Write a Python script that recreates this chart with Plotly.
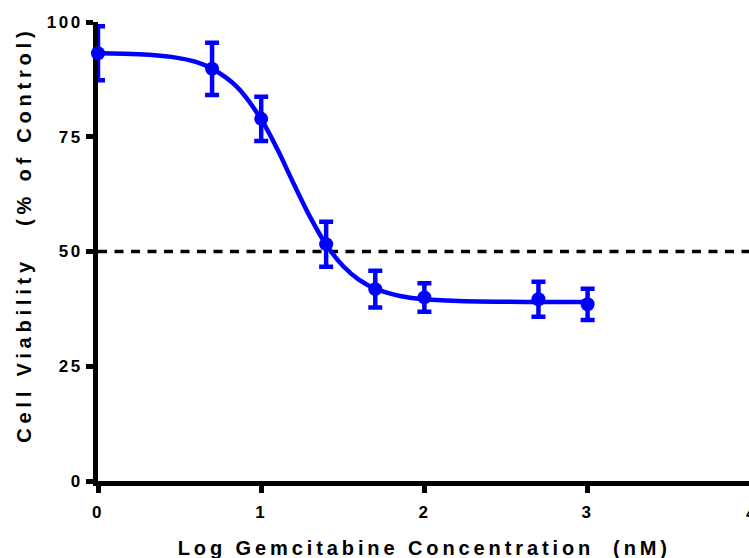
import plotly.graph_objects as go

# Measured cell viability (mean and error) at each log concentration
log_conc = [0, 0.699, 1.0, 1.398, 1.699, 2.0, 2.699, 3.0]
viability = [93.2, 89.8, 78.9, 51.6, 41.8, 40.0, 39.6, 38.5]
viability_err = [5.9, 5.7, 4.8, 4.9, 4.0, 3.1, 3.8, 3.4]

# Dose-response fit curve, sampled along the log concentration axis
fit_x = [0, 0.25, 0.45, 0.6, 0.7, 0.85, 1.0, 1.1, 1.2, 1.3, 1.4, 1.5, 1.6,
         1.7, 1.85, 2.0, 2.25, 2.5, 2.75, 3.0]
fit_y = [93.2, 93.0, 92.4, 91.3, 89.8, 85.9, 78.8, 72.2, 64.7, 57.5, 51.4,
         46.9, 43.8, 41.9, 40.3, 39.6, 39.15, 39.05, 39.0, 39.0]

x_ticks = [0, 1, 2, 3, 4]
y_ticks = [0, 25, 50, 75, 100]
half_line = 50

x_title = "Log Gemcitabine Concentration\u00a0\u00a0(nM)"
y_title = "Cell Viability\u00a0\u00a0\u00a0(% of Control)"

BLUE = "#0000FF"
FONT = "Liberation Sans, Arial, sans-serif"

fig = go.Figure()

fig.add_trace(go.Scatter(
    x=fit_x, y=fit_y, mode="lines",
    line=dict(color=BLUE, width=4.5, shape="spline", smoothing=0.8),
    hoverinfo="skip", showlegend=False,
))

fig.add_trace(go.Scatter(
    x=log_conc, y=viability, mode="markers",
    marker=dict(color=BLUE, size=14, symbol="circle"),
    error_y=dict(type="data", array=viability_err, visible=True,
                 color=BLUE, thickness=4.5, width=7),
    cliponaxis=False, showlegend=False,
))

x_max = 3.989
fig.add_shape(type="line", xref="x", yref="y", x0=0, x1=x_max,
              y0=half_line, y1=half_line, layer="below",
              line=dict(color="black", width=3.5, dash="9px,7.5px"))

axis_common = dict(
    showgrid=False, zeroline=False, showline=True, linecolor="black",
    linewidth=5, ticks="outside", ticklen=7, tickwidth=5, tickcolor="black",
    tickfont=dict(family=FONT, size=17, color="black", weight="bold"),
    layer="below traces", fixedrange=True,
)

fig.update_layout(
    width=749, height=558,
    margin=dict(l=98, r=0, t=22, b=77),
    paper_bgcolor="white", plot_bgcolor="white",
    xaxis=dict(range=[0, x_max], tickvals=x_ticks[:-1],
               ticktext=[str(v) for v in x_ticks[:-1]],
               ticklabelstandoff=5, **axis_common),
    yaxis=dict(range=[0, 100], tickvals=y_ticks,
               ticktext=[str(v) for v in y_ticks], **axis_common),
    annotations=[
        dict(text=x_title, xref="paper", yref="paper", x=0.502, y=-0.146,
             xanchor="center", yanchor="middle", showarrow=False,
             font=dict(family=FONT, size=20, color="black", weight="bold")),
        dict(text=y_title, xref="paper", yref="paper", x=-0.113, y=0.536,
             xanchor="center", yanchor="middle", showarrow=False, textangle=-90,
             font=dict(family=FONT, size=20, color="black", weight="bold")),
        # last x tick label, sitting at the right edge of the axis
        dict(text=str(x_ticks[-1]), xref="paper", yref="paper",
             x=1.0025, y=-0.0715, xanchor="center", yanchor="middle",
             showarrow=False,
             font=dict(family=FONT, size=17, color="black", weight="bold")),
    ],
)

# Spread the letters of tick labels and axis titles
post_js = """
var gd = document.getElementById('{plot_id}');
function spreadLetters() {
  gd.querySelectorAll('.xtick text, .ytick text').forEach(function (t) {
    t.style.letterSpacing = '2.5px';
  });
  var spacing = ['3.9px', '4.8px', '0px'];
  gd.querySelectorAll('g.annotation').forEach(function (g) {
    var i = parseInt(g.getAttribute('data-index'));
    var t = g.querySelector('text');
    if (t && spacing[i]) { t.style.letterSpacing = spacing[i]; }
  });
}
spreadLetters();
gd.on('plotly_afterplot', spreadLetters);
"""

fig.write_html("out.html", post_script=post_js, config={"displayModeBar": False})
